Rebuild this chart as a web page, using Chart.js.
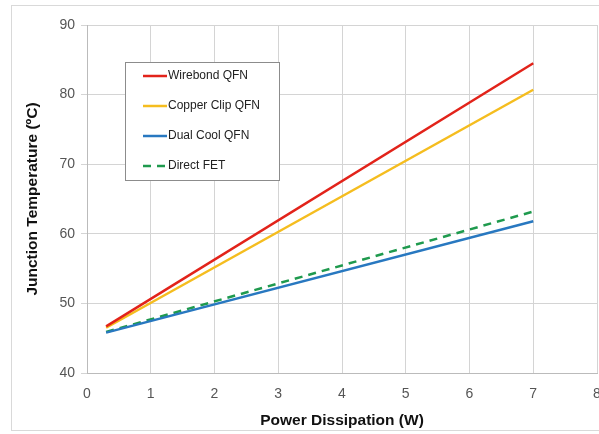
<!DOCTYPE html>
<html>
<head>
<meta charset="utf-8">
<script src="https://cdn.jsdelivr.net/npm/chart.js@4"></script>
<style>
  body { margin: 0; background: #fff; }
  #wrap { position: relative; width: 599px; height: 434px; }
  #frame { position: absolute; left: 11px; top: 5px; width: 600px; height: 426px; border: 1px solid #d9d9d9; box-sizing: border-box; }
</style>
</head>
<body>
<div id="wrap">
  <div id="frame"></div>
  <canvas id="chart" width="599" height="434"></canvas>
</div>
<script>
// Power (W) at the two ends of each line
const power = [0.3, 7];
// Junction temperature (degC)
const wirebond = [46.7, 84.5];
const copperClip = [46.5, 80.7];
const dualCool = [45.8, 61.8];
const directFet = [45.9, 63.2];
const seriesNames = ['Wirebond QFN', 'Copper Clip QFN', 'Dual Cool QFN', 'Direct FET'];

function pts(ys) {
    return power.map((x, i) => ({ x: x, y: ys[i] }));
}

// legend box drawn inside the plot
const boxLegend = {
    id: 'boxLegend',
    afterDraw(chart) {
        const ctx = chart.ctx;
        const x0 = 125, y0 = 62, w = 154, h = 118;
        ctx.save();
        ctx.fillStyle = '#fff';
        ctx.fillRect(x0, y0, w, h);
        ctx.strokeStyle = '#8c8c8c';
        ctx.lineWidth = 1;
        ctx.strokeRect(x0 + 0.5, y0 + 0.5, w, h);
        ctx.font = '12px "Liberation Sans", Arial, sans-serif';
        ctx.textBaseline = 'middle';
        chart.data.datasets.forEach((ds, i) => {
            const y = y0 + 14 + i * 30;
            ctx.strokeStyle = ds.borderColor;
            ctx.lineWidth = 2.5;
            ctx.setLineDash(ds.borderDash || []);
            ctx.beginPath();
            ctx.moveTo(143, y);
            ctx.lineTo(167, y);
            ctx.stroke();
            ctx.setLineDash([]);
            ctx.fillStyle = '#222';
            ctx.fillText(ds.label, 168, y);
        });
        ctx.restore();
    }
};

const tickFont = { family: '"Liberation Sans", Arial, sans-serif', size: 14 };
const titleFont = { family: '"Liberation Sans", Arial, sans-serif', size: 15.5, weight: 'bold' };

new Chart(document.getElementById('chart').getContext('2d'), {
    type: 'line',
    data: {
        datasets: [
            { label: seriesNames[0], data: pts(wirebond), borderColor: '#e2231a', borderWidth: 2.5 },
            { label: seriesNames[1], data: pts(copperClip), borderColor: '#f5bd1f', borderWidth: 2.5 },
            { label: seriesNames[2], data: pts(dualCool), borderColor: '#2878c0', borderWidth: 2.5 },
            { label: seriesNames[3], data: pts(directFet), borderColor: '#1f9a4e', borderWidth: 2.5, borderDash: [8, 6] }
        ]
    },
    options: {
        responsive: false,
        animation: false,
        elements: { point: { radius: 0 }, line: { tension: 0 } },
        layout: { padding: { left: 19, top: 25, right: 2, bottom: 0 } },
        plugins: { legend: { display: false }, tooltip: { enabled: false } },
        scales: {
            x: {
                type: 'linear', min: 0, max: 8,
                ticks: { stepSize: 1, color: '#555', font: tickFont, padding: 13 },
                grid: { color: '#d4d4d4', tickLength: 0 },
                border: { color: '#bbb' },
                title: { display: true, text: 'Power Dissipation (W)', color: '#111', font: titleFont, padding: { top: 4, bottom: 4 } },
                afterFit(scale) { scale.height = 61; scale.paddingRight = 0; scale.paddingLeft = 0; }
            },
            y: {
                min: 40, max: 90,
                ticks: { stepSize: 10, color: '#555', font: tickFont, padding: 6 },
                grid: { color: '#d4d4d4', tickLength: 6 },
                border: { color: '#bbb' },
                title: { display: true, text: 'Junction Temperature (ºC)', color: '#111', font: titleFont, padding: { bottom: 4 } },
                afterFit(scale) { scale.width = 68; scale.paddingTop = 0; scale.paddingBottom = 0; }
            }
        }
    },
    plugins: [boxLegend]
});
</script>
</body>
</html>
